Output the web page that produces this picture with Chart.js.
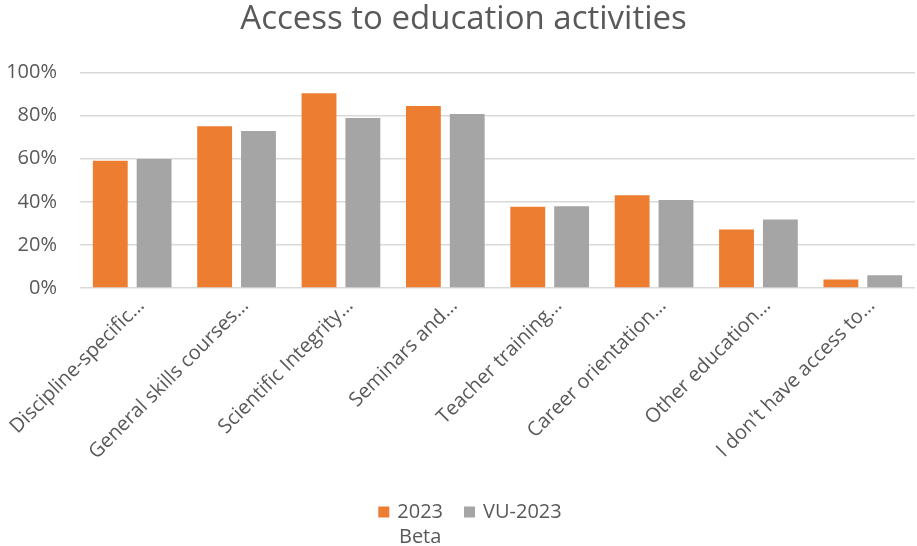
<!DOCTYPE html>
<html>
<head>
<meta charset="utf-8">
<title>Access to education activities</title>
<script src="https://cdn.jsdelivr.net/npm/chart.js@4.4.1/dist/chart.umd.min.js"></script>
<style>
    html, body { margin: 0; padding: 0; background: #fff; }
    #contenedor { width: 917px; height: 546px; }
</style>
</head>
<body>
<div id="contenedor">
    <canvas id="graficoAcceso" width="917" height="546"></canvas>
</div>
<script>
// Datos del gráfico
const categorias = [
    'Discipline-specific…',
    'General skills courses…',
    'Scientific Integrity…',
    'Seminars and…',
    'Teacher training…',
    'Career orientation…',
    'Other education…',
    "I don't have access to…"
];
const nombresSeries = ['2023 Beta', 'VU-2023'];
// La leyenda parte el primer nombre en dos líneas
const lineasLeyenda = [['2023', 'Beta'], ['VU-2023']];
const valores2023Beta = [59.1, 75.1, 90.4, 84.5, 37.7, 43.1, 27.2, 3.9];
const valoresVU2023 = [59.9, 72.9, 78.9, 80.8, 38.0, 40.9, 31.8, 5.9];
const coloresSeries = ['#ED7D31', '#A5A5A5'];
const ticksY = [0, 20, 40, 60, 80, 100];

const FUENTE = "'Open Sans', 'DejaVu Sans', sans-serif";
const GRIS_TEXTO = '#595959';
const GRIS_REJILLA = '#D9D9D9';
const TAM_TEXTO = 20;

// Corre el título un poco a la derecha, centrado sobre las barras
const moverTitulo = {
    id: 'moverTitulo',
    afterLayout(chart) {
        if (chart.titleBlock) {
            chart.titleBlock.left += 12;
        }
    }
};

// Leyenda dibujada a mano (centrada debajo del eje)
const leyendaAbajo = {
    id: 'leyendaAbajo',
    afterDraw(chart) {
        const ctx = chart.ctx;
        const tamCaja = 11;
        const separCaja = 8;
        const separItems = 21;
        const altoLinea = 25;
        const yBase = 512;

        ctx.save();
        ctx.font = TAM_TEXTO + 'px ' + FUENTE;
        ctx.textBaseline = 'middle';
        ctx.textAlign = 'center';

        const anchos = lineasLeyenda.map(lineas =>
            Math.max(...lineas.map(l => ctx.measureText(l).width)));
        let total = 0;
        anchos.forEach((a, i) => {
            total += tamCaja + separCaja + a + (i < anchos.length - 1 ? separItems : 0);
        });

        let x = 470 - total / 2;
        lineasLeyenda.forEach((lineas, i) => {
            ctx.fillStyle = coloresSeries[i];
            ctx.fillRect(x, yBase - tamCaja / 2, tamCaja, tamCaja);
            const xTexto = x + tamCaja + separCaja + anchos[i] / 2;
            ctx.fillStyle = GRIS_TEXTO;
            lineas.forEach((linea, j) => {
                ctx.fillText(linea, xTexto, yBase + j * altoLinea);
            });
            x += tamCaja + separCaja + anchos[i] + separItems;
        });
        ctx.restore();
    }
};

const ctx = document.getElementById('graficoAcceso').getContext('2d');
const grafico = new Chart(ctx, {
    type: 'bar',
    data: {
        labels: categorias,
        datasets: [
            {
                label: nombresSeries[0],
                data: valores2023Beta,
                backgroundColor: coloresSeries[0],
                categoryPercentage: 0.84,
                barPercentage: 0.795
            },
            {
                label: nombresSeries[1],
                data: valoresVU2023,
                backgroundColor: coloresSeries[1],
                categoryPercentage: 0.84,
                barPercentage: 0.795
            }
        ]
    },
    options: {
        responsive: false,
        animation: false,
        layout: {
            padding: { left: 0, right: 2, top: 0, bottom: 62 }
        },
        plugins: {
            legend: { display: false },
            tooltip: { enabled: false },
            title: {
                display: true,
                text: 'Access to education activities',
                color: GRIS_TEXTO,
                font: { family: FUENTE, size: 33, weight: 'normal', lineHeight: 1.2 },
                padding: { top: 0, bottom: 33 }
            }
        },
        scales: {
            x: {
                grid: { display: false, drawTicks: false },
                border: { display: false },
                ticks: {
                    autoSkip: false,
                    minRotation: 45,
                    maxRotation: 45,
                    padding: 6,
                    labelOffset: 9,
                    color: GRIS_TEXTO,
                    font: { family: FUENTE, size: TAM_TEXTO }
                },
                afterFit(escala) {
                    escala.height = 546 - 62 - 288;
                    escala.paddingLeft = 0;
                    escala.paddingRight = 0;
                }
            },
            y: {
                min: 0,
                max: 100,
                afterBuildTicks(escala) {
                    escala.ticks = ticksY.map(v => ({ value: v }));
                },
                grid: { color: GRIS_REJILLA, lineWidth: 1.5, drawTicks: false },
                border: { display: false },
                ticks: {
                    padding: 23,
                    color: GRIS_TEXTO,
                    font: { family: FUENTE, size: TAM_TEXTO },
                    callback: v => v + '%'
                },
                afterFit(escala) {
                    escala.width = 80;
                }
            }
        }
    },
    plugins: [moverTitulo, leyendaAbajo]
});
</script>
</body>
</html>
